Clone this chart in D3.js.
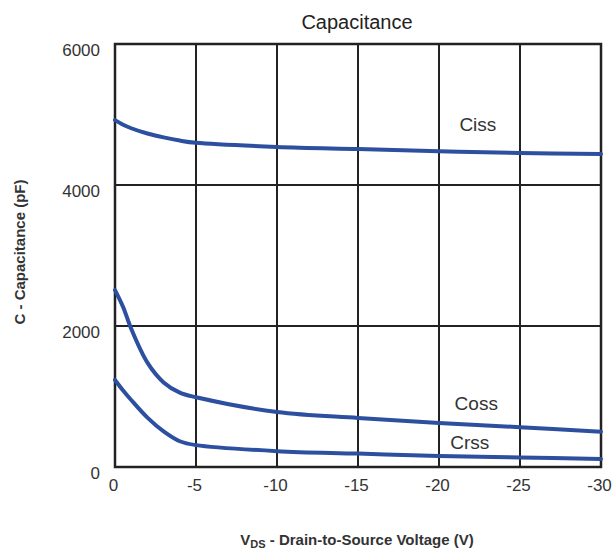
<!DOCTYPE html>
<html>
<head>
<meta charset="utf-8">
<script src="https://cdn.jsdelivr.net/npm/d3@7"></script>
<style>
  body { margin: 0; background: #fff; }
  svg { display: block; font-family: "Liberation Sans", Arial, sans-serif; }
</style>
</head>
<body>
<svg id="chart" width="614" height="551"></svg>
<script>
// Drain-to-source voltage (V) sample points
const vds = [0, -0.5, -1, -2, -3, -4, -5, -10, -15, -20, -25, -30];
// Capacitances (pF)
const ciss = [4920, 4855, 4805, 4730, 4675, 4630, 4598, 4540, 4510, 4480, 4455, 4440];
const coss = [2510, 2270, 1960, 1480, 1200, 1055, 990, 780, 695, 625, 565, 500];
const crss = [1235, 1085, 950, 700, 505, 365, 310, 225, 190, 155, 135, 115];
const xTicks = [0, -5, -10, -15, -20, -25, -30];
const yTicks = [0, 2000, 4000, 6000];

const series = [
  { name: "Ciss", values: ciss, lx: -22.4, ly: 4866 },
  { name: "Coss", values: coss, lx: -22.3, ly: 908 },
  { name: "Crss", values: crss, lx: -21.9, ly: 355 }
];

const svg = d3.select("#chart");
const x = d3.scaleLinear().domain([0, -30]).range([115, 601]);
const y = d3.scaleLinear().domain([0, 6000]).range([467, 44]);

// grid
const grid = svg.append("g").attr("stroke", "#222").attr("stroke-width", 2);
grid.selectAll("line.v").data(xTicks).join("line")
  .attr("x1", d => x(d)).attr("x2", d => x(d))
  .attr("y1", y(6000)).attr("y2", y(0));
grid.selectAll("line.h").data(yTicks).join("line")
  .attr("x1", x(0)).attr("x2", x(-30))
  .attr("y1", d => y(d)).attr("y2", d => y(d));
svg.append("rect")
  .attr("x", x(0)).attr("y", y(6000))
  .attr("width", x(-30) - x(0)).attr("height", y(0) - y(6000))
  .attr("fill", "none").attr("stroke", "#222").attr("stroke-width", 2.5);

// tick labels via d3 axes (no domain / tick lines)
const xAxis = svg.append("g").attr("transform", `translate(-2,${y(0)})`)
  .call(d3.axisBottom(x).tickValues(xTicks).tickSize(0).tickPadding(12).tickFormat(d => String(d)));
const yAxis = svg.append("g").attr("transform", `translate(${x(0)},6)`)
  .call(d3.axisLeft(y).tickValues(yTicks).tickSize(0).tickPadding(15).tickFormat(d => String(d)));
[xAxis, yAxis].forEach(a => {
  a.select(".domain").remove();
  a.selectAll("text").attr("font-size", 17).attr("fill", "#333")
    .attr("font-family", "'Liberation Sans', Arial, sans-serif");
});

// curves
const line = d3.line().x((d, i) => x(vds[i])).y(d => y(d)).curve(d3.curveCatmullRom.alpha(0.5));
svg.append("g").selectAll("path").data(series).join("path")
  .attr("d", d => line(d.values))
  .attr("fill", "none").attr("stroke", "#2c4f9f").attr("stroke-width", 4)
  .attr("stroke-linecap", "round");

svg.append("g").selectAll("text").data(series).join("text")
  .attr("x", d => x(d.lx)).attr("y", d => y(d.ly)).attr("dy", "0.35em")
  .attr("text-anchor", "middle").attr("font-size", 19).attr("fill", "#333")
  .text(d => d.name);

// titles
svg.append("text").attr("x", 357).attr("y", 29).attr("text-anchor", "middle")
  .attr("font-size", 20).attr("fill", "#222").text("Capacitance");
svg.append("text").attr("transform", "translate(25,252) rotate(-90)")
  .attr("text-anchor", "middle").attr("font-size", 15).attr("font-weight", "bold").attr("fill", "#333")
  .text("C - Capacitance (pF)");
const xl = svg.append("text").attr("x", 357).attr("y", 545).attr("text-anchor", "middle")
  .attr("font-size", 15).attr("font-weight", "bold").attr("fill", "#333");
xl.append("tspan").text("V");
xl.append("tspan").attr("font-size", 11).attr("dy", 3).text("DS");
xl.append("tspan").attr("dy", -3).text(" - Drain-to-Source Voltage (V)");
</script>
</body>
</html>
